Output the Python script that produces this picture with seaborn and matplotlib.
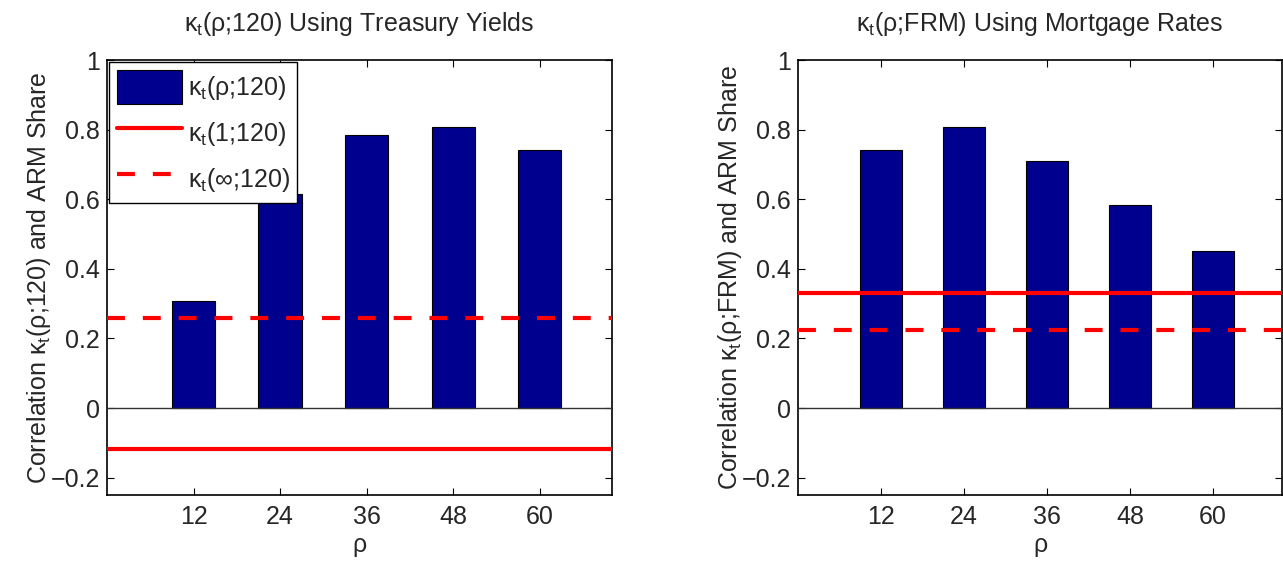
import numpy as np
import pandas as pd
import matplotlib
matplotlib.use("Agg")
import matplotlib.pyplot as plt
from matplotlib.patches import Patch
from matplotlib.lines import Line2D
import seaborn as sns

# Horizon (months) and correlation estimates
rho = [12, 24, 36, 48, 60]
kappa_treasury = [0.309, 0.614, 0.785, 0.808, 0.741]
kappa_mortgage = [0.741, 0.807, 0.709, 0.583, 0.451]
# Reference levels: kappa(1;.) and kappa(inf;.)
treasury_one, treasury_inf = -0.117, 0.259
mortgage_one, mortgage_inf = 0.331, 0.224

titles = [r"$\kappa_t$(ρ;120) Using Treasury Yields",
          r"$\kappa_t$(ρ;FRM) Using Mortgage Rates"]
ylabels = [r"Correlation $\kappa_t$(ρ;120) and ARM Share",
           r"Correlation $\kappa_t$(ρ;FRM) and ARM Share"]
legend_labels = [r"$\kappa_t$(ρ;120)", r"$\kappa_t$(1;120)", r"$\kappa_t$(∞;120)"]
yticks = [-0.2, 0, 0.2, 0.4, 0.6, 0.8, 1]
yticklabels = ["\u22120.2", "0", "0.2", "0.4", "0.6", "0.8", "1"]

sns.set_theme(style="white")
plt.rcParams["font.family"] = ["Liberation Sans", "DejaVu Sans"]
plt.rcParams["mathtext.fontset"] = "custom"
plt.rcParams["mathtext.rm"] = "Liberation Sans"
plt.rcParams["mathtext.it"] = "Liberation Sans"
plt.rcParams["mathtext.default"] = "regular"

FS = 18
BAR = "#00008f"
RED = "#ff0000"
DASH = (0, (4.3, 4.3))

fig = plt.figure(figsize=(12.83, 5.67), dpi=100)
ax1 = fig.add_axes([0.0834, 0.127, 0.3936, 0.767])
ax2 = fig.add_axes([0.622, 0.127, 0.3772, 0.767])

panels = [
    (ax1, kappa_treasury, treasury_one, treasury_inf),
    (ax2, kappa_mortgage, mortgage_one, mortgage_inf),
]

for i, (ax, vals, one, inf) in enumerate(panels):
    df = pd.DataFrame({"rho": rho, "kappa": vals})
    sns.barplot(data=df, x="rho", y="kappa", native_scale=True, width=0.5,
                color=BAR, saturation=1, edgecolor="black", linewidth=0.8,
                ax=ax, zorder=2)
    ax.axhline(0, color="#333333", lw=1.0, zorder=3)
    ax.axhline(inf, color=RED, lw=3, linestyle=DASH, zorder=4)
    ax.axhline(one, color=RED, lw=3, zorder=4)

    ax.set_xlim(0, 70)
    ax.set_ylim(-0.25, 1)
    ax.set_xticks(rho)
    ax.set_xticklabels([str(r) for r in rho])
    ax.set_yticks(yticks)
    ax.set_yticklabels(yticklabels)
    ax.tick_params(axis="both", which="both", direction="in", length=5,
                   width=0.8, color="black", labelsize=FS,
                   top=True, right=True, bottom=True, left=True)
    ax.tick_params(axis="y", pad=5)
    ax.tick_params(axis="x", pad=7)
    for s in ax.spines.values():
        s.set_visible(True)
        s.set_color("black")
        s.set_linewidth(1.2)
    ax.grid(False)
    ax.set_xlabel("ρ", fontsize=FS, labelpad=3)
    ax.set_ylabel(ylabels[i], fontsize=FS, labelpad=-2)
    ax.set_title(titles[i], fontsize=FS, pad=21)

handles = [
    Patch(facecolor=BAR, edgecolor="black", linewidth=0.8),
    Line2D([], [], color=RED, lw=3),
    Line2D([], [], color=RED, lw=3, linestyle=DASH),
]
leg = ax1.legend(handles, legend_labels, loc="upper left",
                 bbox_to_anchor=(0.0, 1.0), fontsize=FS, frameon=True,
                 fancybox=False, edgecolor="black", framealpha=1,
                 handlelength=2.6, handleheight=1.75, borderpad=0.3,
                 labelspacing=0.45, handletextpad=0.25, borderaxespad=0.08)
leg.get_frame().set_linewidth(1.0)

fig.savefig("out.png", dpi=100, facecolor="white")
